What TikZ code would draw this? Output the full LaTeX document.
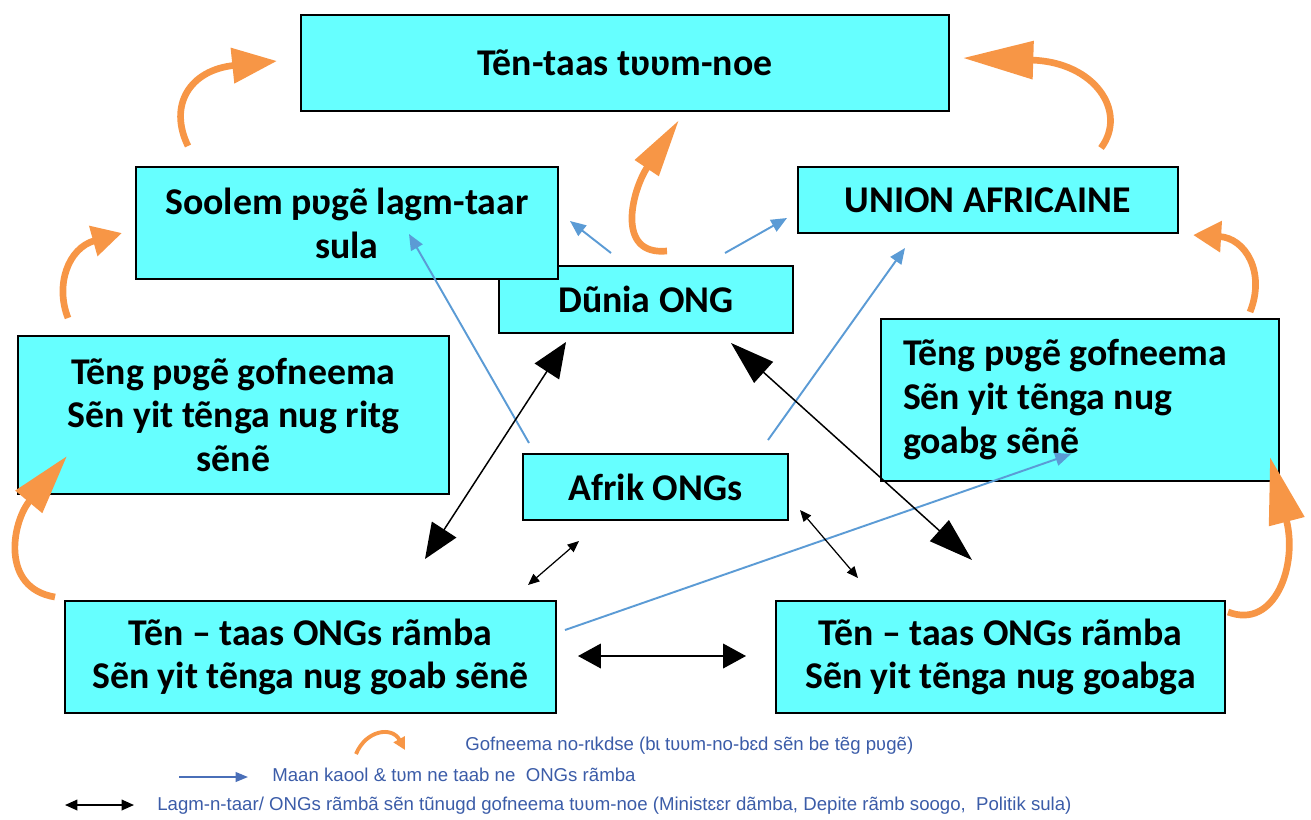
\documentclass[tikz,border=0pt]{standalone}
\usepackage{fontspec}
\setmainfont{Carlito}
\newfontfamily\legfont{Liberation Sans}
\usetikzlibrary{arrows.meta}
\definecolor{boxfill}{HTML}{66FFFF}
\definecolor{orangeA}{HTML}{F79646}
\definecolor{blueA}{HTML}{5B9BD5}
\definecolor{blueL}{HTML}{4A6FB8}
\definecolor{legtext}{HTML}{3B5CA8}
\begin{document}
\begin{tikzpicture}[x=0.02cm,y=-0.02cm,
  bx/.style={draw=black, line width=1.1pt, fill=boxfill, inner sep=0pt, align=center,
    font=\fontsize{21.5}{25}\selectfont\bfseries, anchor=north west},
  sz/.style 2 args={minimum width=#1*0.02cm, minimum height=#2*0.02cm},
  oarr/.style={draw=orangeA, line width=3.8pt, line cap=butt},
  barr/.style={draw=blueA, line width=1.1pt, -{Triangle[length=9pt,width=7.5pt]}},
  karr/.style={draw=black, line width=0.85pt},
  legtxt/.style={anchor=west, inner sep=0pt, text=legtext, font=\legfont\fontsize{10.6}{12}\selectfont}
]
\useasboundingbox (0,0) rectangle (1311,819);

% boxes
\node[bx, sz={648}{96}] (top) at (300,14) {Tẽn-taas tʋʋm-noe};
\node[bx, sz={294}{67}] (dunia) at (498,265) {Dũnia ONG};
\node[bx, sz={422}{112}] (soolem) at (135,166) {Soolem pʋgẽ lagm-taar\\sula};
\node[bx, sz={380}{66}] (union) at (797,166) {UNION AFRICAINE};
\node[bx, sz={431}{158}] (left) at (17,335) {Tẽng pʋgẽ gofneema\\Sẽn yit tẽnga nug ritg\\sẽnẽ};
\node[bx, sz={398}{162}, align=flush left, inner xsep=0.44cm, text width=7.08cm] (right) at (880,318) {Tẽng pʋgẽ gofneema\\Sẽn yit tẽnga nug\\goabg sẽnẽ};
\node[bx, sz={265}{66}] (afrik) at (522,453) {Afrik ONGs};
\node[bx, sz={491}{112}] (bl) at (64,600) {Tẽn – taas ONGs rãmba\\Sẽn yit tẽnga nug goab sẽnẽ};
\node[bx, sz={449}{112}] (br) at (775,600) {Tẽn – taas ONGs rãmba\\Sẽn yit tẽnga nug goabga};

% orange arrows
\coordinate (o1s) at (188,146); \coordinate (o1e) at (277,61);
\draw[oarr, -{Triangle[length=25.5pt,width=19.5pt]}] (o1s) .. controls (168,105) and (190,70) .. (o1e);
\coordinate (o2s) at (1101,148); \coordinate (o2e) at (963,58);
\draw[oarr, -{Triangle[length=40pt,width=21pt]}] (o2s) .. controls (1128,112) and (1095,62) .. (o2e);
\coordinate (o3s) at (667,251); \coordinate (o3e) at (679,120);
\draw[oarr, -{Triangle[length=33pt,width=15.5pt]}] (o3s) .. controls (615,256) and (632,190) .. (o3e);
\coordinate (o4s) at (68,318); \coordinate (o4e) at (122,233);
\draw[oarr, -{Triangle[length=17pt,width=17pt]}] (o4s) .. controls (55,285) and (68,248) .. (o4e);
\coordinate (o5s) at (55,597); \coordinate (o5e) at (67,456);
\draw[oarr, -{Triangle[length=34pt,width=19pt]}] (o5s) .. controls (0,588) and (12,522) .. (o5e);
\coordinate (o6s) at (1228,612); \coordinate (o6e) at (1270,457);
\draw[oarr, -{Triangle[length=38pt,width=20pt]}] (o6s) .. controls (1275,630) and (1298,565) .. (o6e);
\coordinate (o7s) at (1250,312); \coordinate (o7e) at (1193,235);
\draw[oarr, -{Triangle[length=16pt,width=17pt]}] (o7s) .. controls (1266,272) and (1245,238) .. (o7e);

% blue arrows
\coordinate (b1s) at (529,443); \coordinate (b1e) at (409,234);
\draw[barr] (b1s) -- (b1e);
\coordinate (b2s) at (768,440); \coordinate (b2e) at (905,248);
\draw[barr] (b2s) -- (b2e);
\coordinate (b3s) at (611,253); \coordinate (b3e) at (570,221);
\draw[barr] (b3s) -- (b3e);
\coordinate (b4s) at (725,253); \coordinate (b4e) at (787,218);
\draw[barr] (b4s) -- (b4e);
\coordinate (b5s) at (565,630); \coordinate (b5e) at (1071,454);
\draw[barr] (b5s) -- (b5e);

% black arrows
\coordinate (k1a) at (566,342); \coordinate (k1b) at (425,559);
\draw[karr, {Triangle[length=20pt,width=16.5pt]}-{Triangle[length=20pt,width=16.5pt]}] (k1a) -- (k1b);
\coordinate (k2a) at (731,343); \coordinate (k2b) at (972,560);
\draw[karr, {Triangle[length=25pt,width=16pt]}-{Triangle[length=25pt,width=16pt]}] (k2a) -- (k2b);
\coordinate (k3a) at (578,656); \coordinate (k3b) at (746,656);
\draw[karr, {Triangle[length=13pt,width=14pt]}-{Triangle[length=13pt,width=14pt]}] (k3a) -- (k3b);
\coordinate (k4a) at (528,585); \coordinate (k4b) at (579,541);
\draw[karr, line width=0.7pt, {Triangle[length=6.5pt,width=5.5pt]}-{Triangle[length=6.5pt,width=5.5pt]}] (k4a) -- (k4b);
\coordinate (k5a) at (800,510); \coordinate (k5b) at (858,578);
\draw[karr, line width=0.7pt, {Triangle[length=6.5pt,width=5.5pt]}-{Triangle[length=6.5pt,width=5.5pt]}] (k5a) -- (k5b);

% legend
\coordinate (l1s) at (356,754); \coordinate (l1e) at (405,750);
\draw[draw=orangeA, line width=2.2pt, -{Triangle[length=7pt,width=7pt]}] (l1s) .. controls (366,730) and (392,726) .. (l1e);
\node[legtxt] (t1) at (465,746) {Gofneema no-rɩkdse (bɩ tʋʋm-no-bɛd sẽn be tẽg pʋgẽ)};
\coordinate (l2s) at (179,777); \coordinate (l2e) at (248,777);
\draw[draw=blueL, line width=1pt, -{Triangle[length=7pt,width=5.5pt]}] (l2s) -- (l2e);
\node[legtxt] (t2) at (272,775) {Maan kaool \& tʋm ne taab ne\ \ ONGs rãmba};
\coordinate (l3s) at (65,805); \coordinate (l3e) at (134,805);
\draw[draw=black, line width=1pt, {Triangle[length=7pt,width=6pt]}-{Triangle[length=7pt,width=6pt]}] (l3s) -- (l3e);
\node[legtxt] (t3) at (157,806) {Lagm-n-taar/ ONGs rãmbã sẽn tũnugd gofneema tʋʋm-noe (Ministɛɛr dãmba, Depite rãmb soogo,\ \ Politik sula)};
\end{tikzpicture}
\end{document}
